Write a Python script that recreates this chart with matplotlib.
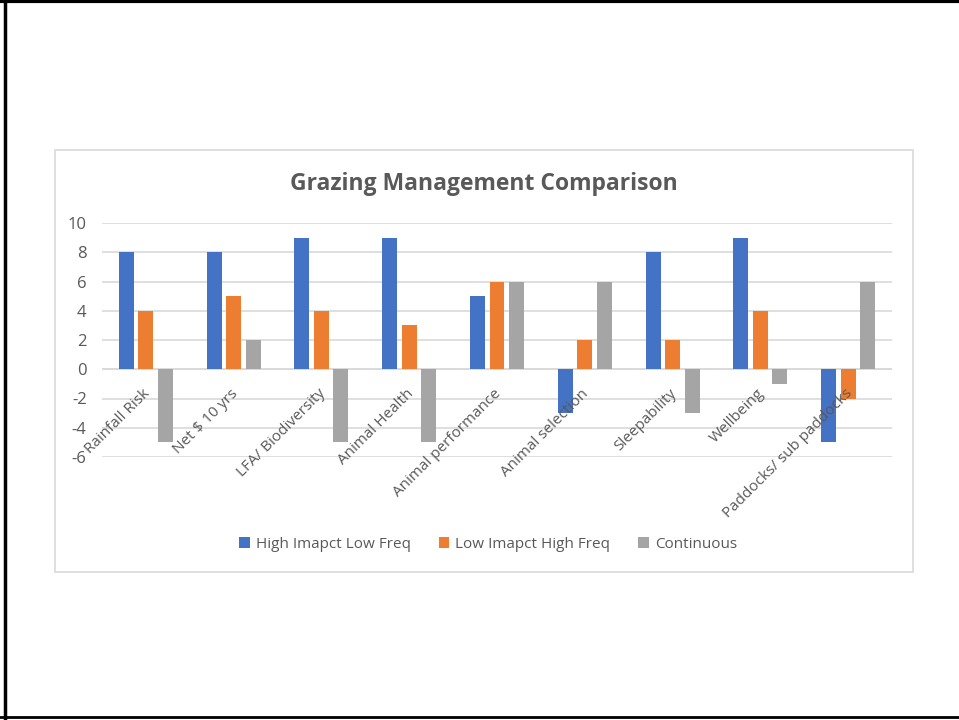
import numpy as np
import matplotlib.pyplot as plt
from matplotlib.patches import Rectangle

plt.rcParams['font.family'] = ['Open Sans', 'DejaVu Sans']

# =========================
#  DATA
# =========================
categories = ["Rainfall Risk", "Net $ 10 yrs", "LFA/ Biodiversity", "Animal Health",
              "Animal performance", "Animal selection", "Sleepability", "Wellbeing",
              "Paddocks/ sub paddocks"]
high_impact = [8, 8, 9, 9, 5, -3, 8, 9, -5]
low_impact = [4, 5, 4, 3, 6, 2, 2, 4, -2]
continuous = [-5, 2, -5, -5, 6, 6, -3, -1, 6]
series_names = ["High Imapct Low Freq", "Low Imapct High Freq", "Continuous"]
y_ticks = [-6, -4, -2, 0, 2, 4, 6, 8, 10]

colors = ["#4472C4", "#ED7D31", "#A5A5A5"]
text_color = "#595959"
grid_color = "#D9D9D9"

fig = plt.figure(figsize=(9.59, 7.2), dpi=100)

# slide frame (black) and chart box (light gray)
fig.add_artist(plt.Line2D([0, 1], [0.998, 0.998], color="black", lw=3, transform=fig.transFigure))
fig.add_artist(plt.Line2D([0.005, 0.005], [0, 1], color="black", lw=2.5, transform=fig.transFigure))
fig.add_artist(plt.Line2D([0, 1], [0.004, 0.004], color="black", lw=2, transform=fig.transFigure))
fig.add_artist(Rectangle((55 / 959, 1 - 572 / 720), (913 - 55) / 959, (572 - 150) / 720,
                         transform=fig.transFigure, fill=False, edgecolor=grid_color, lw=1.2))

ax = fig.add_axes([102 / 959, 1 - 457 / 720, (892 - 102) / 959, (457 - 223) / 720])

x = np.arange(len(categories))
width = 0.17
step = 0.222
for k, (vals, name) in enumerate(zip([high_impact, low_impact, continuous], series_names)):
    ax.bar(x + (k - 1) * step, vals, width, color=colors[k], label=name, zorder=3)

ax.set_xlim(-0.5, len(categories) - 0.5)
ax.set_ylim(-6, 10)
ax.set_yticks(y_ticks)
ax.set_yticklabels([str(t) for t in y_ticks], fontsize=12, color=text_color)
ax.tick_params(axis="y", length=0, pad=11)
ax.set_xticks([])
ax.grid(axis="y", color=grid_color, lw=1.2, zorder=0)
ax.axhline(0, color=grid_color, lw=1.2, zorder=2)
for s in ax.spines.values():
    s.set_visible(False)

# category labels hang from the zero line, rotated 45 degrees
for i, cat in enumerate(categories):
    ax.text(i - 0.04, -1.15, cat, rotation=45, ha="right", va="top",
            rotation_mode="anchor", fontsize=11, color=text_color, zorder=4)

fig.text(484 / 959, 1 - 184 / 720, "Grazing Management Comparison", ha="center", va="center",
         fontsize=16.5, fontweight="bold", color=text_color)

leg = fig.legend(loc="center", bbox_to_anchor=(488 / 959, 1 - 544 / 720), ncol=3, frameon=False,
                 fontsize=11, handlelength=0.7, handleheight=0.7, handletextpad=0.4,
                 columnspacing=1.8)
for t in leg.get_texts():
    t.set_color(text_color)

plt.savefig("out.png", dpi=100)
plt.close()
